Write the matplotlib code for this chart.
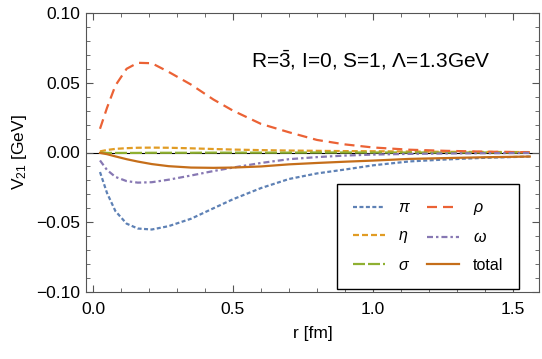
import numpy as np
import matplotlib
matplotlib.use("Agg")
import matplotlib.pyplot as plt
from matplotlib.ticker import MultipleLocator

plt.rcParams['font.family'] = ['Liberation Sans', 'DejaVu Sans']
plt.rcParams['mathtext.fontset'] = 'custom'
plt.rcParams['mathtext.rm'] = 'Liberation Sans'
plt.rcParams['mathtext.it'] = 'Liberation Sans:italic'

# values
r = [0.025, 0.05, 0.08, 0.12, 0.16, 0.21, 0.27, 0.35, 0.43, 0.5,
     0.6, 0.7, 0.8, 0.9, 1.0, 1.13, 1.26, 1.4, 1.56]
v_pi = [-0.014, -0.029, -0.042, -0.051, -0.0545, -0.0552, -0.0528, -0.0475, -0.040, -0.0335,
        -0.0255, -0.019, -0.015, -0.0122, -0.0092, -0.0064, -0.0050, -0.0038, -0.0029]
v_rho = [0.017, 0.032, 0.048, 0.060, 0.0643, 0.0640, 0.0578, 0.0487, 0.038, 0.030,
         0.0205, 0.0145, 0.0090, 0.0058, 0.0036, 0.0020, 0.0012, 0.0006, 0.0002]
v_eta = [0.0008, 0.0018, 0.0026, 0.0031, 0.0034, 0.0035, 0.0034, 0.0030, 0.0025, 0.0021,
         0.0017, 0.0014, 0.0012, 0.0010, 0.0009, 0.0007, 0.0005, 0.0004, 0.0003]
v_omega = [-0.0057, -0.0125, -0.0175, -0.0205, -0.0216, -0.0213, -0.0195, -0.0165, -0.0133, -0.0108,
           -0.0075, -0.0048, -0.0033, -0.0022, -0.0015, -0.0010, -0.0007, -0.0005, -0.0003]
v_sigma = [-0.0002, -0.0003, -0.0003, -0.0003, -0.0003, -0.0002, -0.0002, -0.0002, -0.0001, -0.0001,
           -0.0001, -0.0001, 0.0, 0.0, 0.0, 0.0, 0.0, 0.0, 0.0]
v_total = [-0.0003, -0.0012, -0.0028, -0.0048, -0.0065, -0.0083, -0.0098, -0.0108, -0.0110, -0.0108,
           -0.0100, -0.0085, -0.0075, -0.0066, -0.0058, -0.0046, -0.0040, -0.0034, -0.0029]

fig = plt.figure(figsize=(5.42, 3.59), dpi=100)
ax = fig.add_axes([86/542, 1-292/359, 453/542, 279/359])

ax.axhline(0, color='black', lw=0.8, zorder=1)
lw = 1.6
ax.plot(r, v_pi, color='#5E81B5', lw=lw, dashes=(1.8, 1.1), label=r'$\pi$')
ax.plot(r, v_eta, color='#E19C24', lw=lw, dashes=(2.7, 1.35), label=r'$\eta$')
ax.plot(r, v_sigma, color='#8FB032', lw=lw, dashes=(5.4, 1.35), label=r'$\sigma$')
ax.plot(r, v_rho, color='#EB6235', lw=lw, dashes=(4.5, 2.7), label=r'$\rho$')
ax.plot(r, v_omega, color='#8778B3', lw=lw, dashes=(2.7, 1.35, 1.1, 1.35), label=r'$\omega$')
ax.plot(r, v_total, color='#C56E1A', lw=lw, label='total')

ax.set_xlim(-0.025, 1.593)
ax.set_ylim(-0.10, 0.10)
ax.xaxis.set_major_locator(MultipleLocator(0.5))
ax.xaxis.set_minor_locator(MultipleLocator(0.1))
ax.yaxis.set_major_locator(MultipleLocator(0.05))
ax.yaxis.set_minor_locator(MultipleLocator(0.01))
ax.xaxis.set_major_formatter(plt.FuncFormatter(lambda v, p: f"{v:.1f}".replace('-', '\u2212')))
ax.yaxis.set_major_formatter(plt.FuncFormatter(lambda v, p: f"{v:.2f}".replace('-', '\u2212')))
ax.tick_params(which='both', direction='in', top=True, right=True, color='#555555',
               labelsize=12.5, pad=4)
ax.tick_params(axis='x', which='both', pad=7)
ax.tick_params(which='major', length=5, width=0.8)
ax.tick_params(which='minor', length=3, width=0.6)
for s in ax.spines.values():
    s.set_color('#555555')
    s.set_linewidth(0.8)

ax.set_xlabel('r [fm]', fontsize=12.5, labelpad=7)
ax.set_ylabel(r'$\mathrm{V}_{21}$ [GeV]', fontsize=12.5, labelpad=5)

ax.text(0.629, 0.832, 'R=$\\bar{3}$, I=0, S=1, \u039b=1.3GeV', transform=ax.transAxes,
        ha='center', va='center', fontsize=15)

leg = ax.legend(ncol=2, loc='lower left', bbox_to_anchor=(0.554, 0.011), fontsize=11.5,
                frameon=True, fancybox=False, edgecolor='black', framealpha=1,
                handlelength=2.0, handletextpad=0.85, columnspacing=1.0,
                labelspacing=0.8, borderpad=1.0, borderaxespad=0)
leg.get_frame().set_linewidth(1.0)

fig.savefig('out.png', dpi=100)
